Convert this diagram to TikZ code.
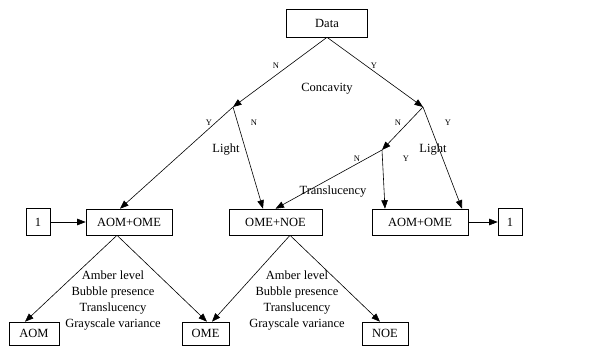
\documentclass[tikz,border=0pt]{standalone}
\usepackage{fontspec}
\setmainfont{Liberation Serif}
\usetikzlibrary{arrows.meta,positioning}

\begin{document}
\begin{tikzpicture}[x=1pt,y=-1pt,
  box/.style={draw,line width=0.6pt,minimum height=26pt,inner sep=2pt,font=\fontsize{12.5}{14}\selectfont},
  lbl/.style={font=\fontsize{12.5}{16}\selectfont,align=center},
  yn/.style={font=\fontsize{8.5}{10}\selectfont},
  edge/.style={line width=0.6pt,-{Triangle[length=8.5pt,width=6.5pt]}}]
\useasboundingbox (0,0) rectangle (599,346);

\node(data)[box,minimum width=81pt,minimum height=28pt] at (327,23) {Data};
\node(oneL)[box,minimum width=24pt,minimum height=27pt] at (38,222) {1};
\node(aomL)[box,minimum width=86pt] at (129,222) {AOM+OME};
\node(omenoe)[box,minimum width=93pt] at (275.5,222) {OME+NOE};
\node(aomR)[box,minimum width=96pt] at (420,222) {AOM+OME};
\node(oneR)[box,minimum width=24pt,minimum height=27pt] at (510,222) {1};
\node(aom)[box,minimum width=50pt,minimum height=23pt] at (34,333.5) {AOM};
\node(ome)[box,minimum width=47pt,minimum height=23pt] at (205.5,333.5) {OME};
\node(noe)[box,minimum width=46pt,minimum height=23pt] at (385,333.5) {NOE};

\coordinate(splitL) at (233,107);
\coordinate(splitR) at (423,107);
\coordinate(splitT) at (382,150);

\node[yn] at (276,66) {N};
\node[yn] at (374,66) {Y};
\node[lbl] at (327,89) {Concavity};
\node[yn] at (209,123) {Y};
\node[yn] at (254,123) {N};
\node[lbl] at (226,150) {Light};
\node[yn] at (398,123) {N};
\node[yn] at (448,123) {Y};
\node[lbl] at (433,150) {Light};
\node[yn] at (357,159) {N};
\node[yn] at (406,159) {Y};
\node[lbl] at (333,192) {Translucency};
\node[lbl] at (113,301) {Amber level\\Bubble presence\\Translucency\\Grayscale variance};
\node[lbl] at (297,301) {Amber level\\Bubble presence\\Translucency\\Grayscale variance};

\draw [edge] (data.south) to (splitL);
\draw [edge] (data.south) to (splitR);
\draw [edge] (splitL) to ([xshift=-9pt]aomL.north);
\draw [edge] (splitL) to ([xshift=-12.5pt]omenoe.north);
\draw [edge] (splitR) to (splitT);
\draw [edge] (splitR) to ([xshift=42pt]aomR.north);
\draw [edge] (splitT) to (omenoe.north);
\draw [edge] (splitT) to ([xshift=-35pt]aomR.north);
\draw [edge] (oneL) to (aomL);
\draw [edge] (aomR) to (oneR);
\draw [edge] ([xshift=-12pt]aomL.south) to ([xshift=-9pt]aom.north);
\draw [edge] ([xshift=-12pt]aomL.south) to ([xshift=1.5pt]ome.north);
\draw [edge] ([xshift=14.5pt]omenoe.south) to ([xshift=6.5pt]ome.north);
\draw [edge] ([xshift=14.5pt]omenoe.south) to ([xshift=-5pt]noe.north);
\end{tikzpicture}
\end{document}
